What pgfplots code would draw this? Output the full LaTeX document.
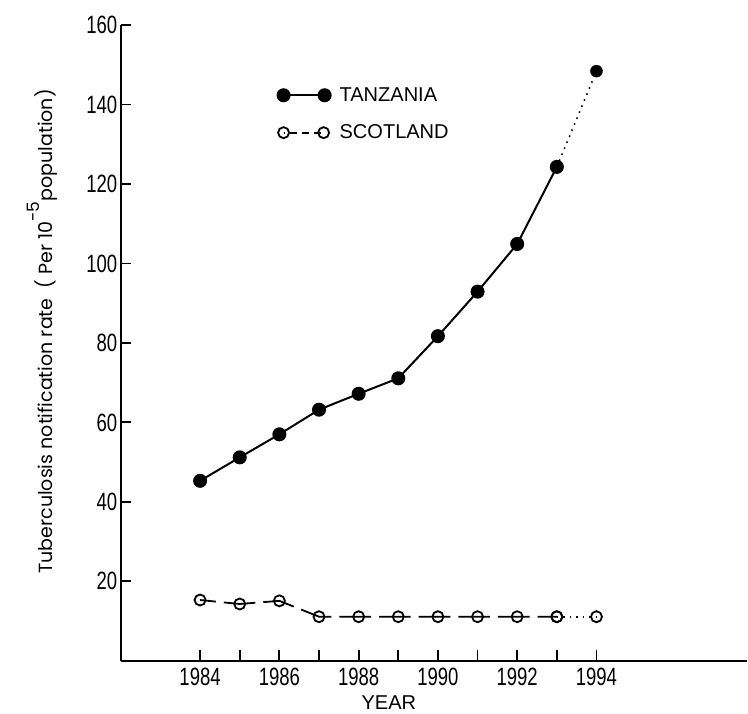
\documentclass[border=0pt]{standalone}
\usepackage{pgfplots}
\pgfplotsset{compat=1.18}
\usepackage{fontspec}
\setmainfont{Liberation Sans}
\newfontfamily\tickfont[FakeStretch=0.74]{Liberation Sans}
\newfontfamily\ylabfont{Poppins}
\pgfplotsset{
  tzleg/.style={legend image code/.code={\draw[##1, mark repeat=1] plot coordinates {(0pt,0pt) (41pt,0pt)};}},
  scleg/.style={legend image code/.code={\draw[##1, dash pattern=on 7pt off 5pt, dash phase=-6pt, mark repeat=1] plot coordinates {(0pt,0pt) (40pt,0pt)};}},
}
\pgfplotstableread{
year tz
1984 45.3
1985 51.2
1986 57.0
1987 63.2
1988 67.2
1989 71.1
1990 81.7
1991 92.9
1992 104.9
1993 124.3
}\tanzania
\pgfplotstableread{
year tz
1993 124.3
1994 148.4
}\tanzaniadot
\pgfplotstableread{
year sc
1984 15.3
1985 14.3
1986 15.1
1987 11.1
1988 11.1
1989 11.1
1990 11.1
1991 11.1
1992 11.1
1993 11.1
}\scotland
\pgfplotstableread{
year sc
1993 11.1
1994 11.1
}\scotlanddot
\begin{document}
\begin{tikzpicture}
\begin{axis}[
  x=39.6pt, y=3.97pt,
  xmin=1982, xmax=1997.8, ymin=0, ymax=160,
  axis lines*=left,
  axis line style={line width=1.8pt},
  every tick/.style={line width=1.8pt, black},
  tick align=inside,
  major tick length=10.5pt,
  xtick={1984,...,1994},
  xticklabels={1984,,1986,,1988,,1990,,1992,,1994},
  ytick={20,40,...,160},
  tick label style={font=\tickfont\fontsize{25}{25}\selectfont},
  xticklabel style={yshift=-4pt},
  /pgf/number format/assume math mode=true,
  xlabel={YEAR},
  xlabel style={font=\fontsize{20}{20}\selectfont, at={(axis description cs:0.428,0)}, anchor=north, yshift=-31.5pt},
  ylabel={\ylabfont\fontsize{19}{19}\selectfont Tuberculosis notification rate \ ( Per 10\raisebox{1.2ex}{\fontsize{17}{17}\selectfont -5}population)},
  ylabel style={at={(axis description cs:-0.1255,0.518)}, anchor=center, rotate=0},
  legend style={at={(axis cs:1985.95,137.6)}, anchor=west, draw=none, fill=none,
    font=\fontsize{20}{20}\selectfont, row sep=18pt, inner sep=0pt,
    /tikz/every odd column/.append style={column sep=7pt}},
  legend cell align=left,
  clip=false,
]
\addplot[forget plot, line width=1.6pt, dash pattern=on 1.5pt off 5pt] table[x=year,y=tz]{\tanzaniadot};
\addplot[forget plot, line width=1.6pt, dash pattern=on 1.5pt off 5pt] table[x=year,y=sc]{\scotlanddot};
\addplot[tzleg, line width=2pt, black, mark=*, mark size=6pt, mark options={solid, fill=black}]
  table[x=year,y=tz]{\tanzania};
\addlegendentry{TANZANIA}
\addplot[scleg, line width=1.8pt, black, dash pattern=on 31.6pt off 8pt, dash phase=15.8pt,
  mark=o, mark size=5.5pt, mark options={solid, fill=white}]
  table[x=year,y=sc]{\scotland};
\addlegendentry{SCOTLAND}
\addplot[forget plot, only marks, black, mark=*, mark size=6pt] table[x=year,y=tz]{\tanzaniadot};
\addplot[forget plot, only marks, black, mark=o, line width=1.8pt, mark size=5.5pt, mark options={fill=white}] table[x=year,y=sc]{\scotlanddot};
\end{axis}
\path ([xshift=-120.7pt, yshift=-48pt]current axis.south west) rectangle ([yshift=25pt]current axis.north east);
\end{tikzpicture}
\end{document}
